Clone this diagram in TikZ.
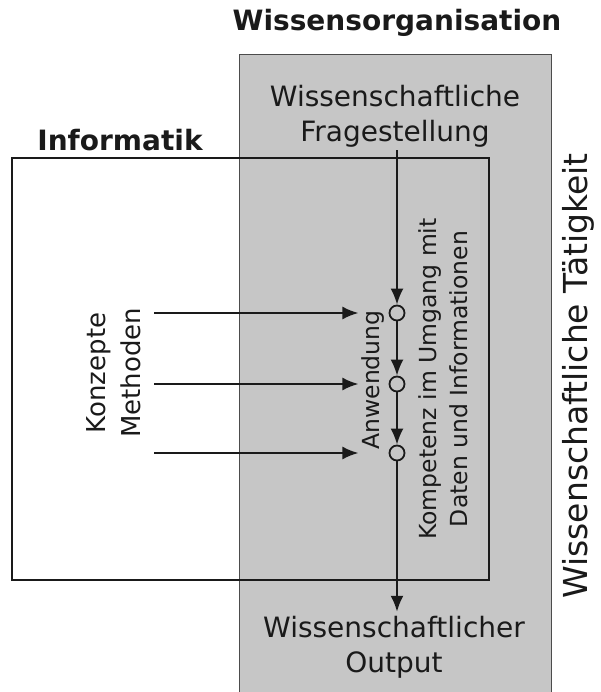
\documentclass[tikz,border=0pt]{standalone}
\usepackage{fontspec}
\setmainfont{DejaVu Sans}
\usetikzlibrary{arrows.meta}
\definecolor{ink}{HTML}{1A1A1A}
\definecolor{field}{HTML}{C6C6C6}
\tikzset{
  lbl/.style={text=ink, font=\fontsize{28}{35}\selectfont, align=center, inner sep=0pt},
  small/.style={text=ink, font=\fontsize{23.5}{31}\selectfont, align=center, inner sep=0pt},
  head/.style={text=ink, font=\fontsize{28}{32}\selectfont\bfseries, inner sep=0pt},
  arr/.style={draw=ink, line width=2pt, -{Latex[length=16pt,width=13pt]}},
  knot/.style={circle, draw=ink, line width=1.8pt, minimum size=15pt, inner sep=0pt},
}
\begin{document}
\begin{tikzpicture}[x=1pt,y=-1pt]
\useasboundingbox (0,0) rectangle (600,692);
% shaded area: Wissensorganisation
\fill[field] (239,54) rectangle (551,700);
\draw[gray!60!black, line width=0.8pt] (551,700) -- (551,54) -- (239,54) -- (239,700);
% frame: Informatik
\draw[ink, line width=1.5pt] (12,158) rectangle (489,580);

% headings
\node[head] (wo) at (397,23) {Wissensorganisation};
\node[head] (inf) at (120,140) {Informatik};

% texts
\node[lbl] (fq) at (395,116) {Wissenschaftliche\\Fragestellung};
\node[lbl] (out) at (394,647) {Wissenschaftlicher\\Output};
\node[lbl, rotate=90, font=\fontsize{26}{35}\selectfont] (km) at (114,373) {Konzepte\\Methoden};
\node[small, rotate=90, inner sep=3pt] (an) at (373,380) {Anwendung};
\node[small, rotate=90] (ko) at (443,379) {Kompetenz im Umgang mit\\Daten und Informationen};
\node[lbl, rotate=90, font=\fontsize{33}{38}\selectfont] (wt) at (578,376) {Wissenschaftliche Tätigkeit};

% chain of steps
\node[knot] (c1) at (397,313) {};
\node[knot] (c2) at (397,384) {};
\node[knot] (c3) at (397,453) {};

\draw[arr, shorten <=3pt] (fq.south -| c1) -- (c1);
\draw[arr] (c1) -- (c2);
\draw[arr] (c2) -- (c3);
\draw[arr, shorten >=4pt] (c3) -- (c3 |- out.north);

\draw[arr, shorten <=13pt] (km.south |- c1) -- (an.north |- c1);
\draw[arr, shorten <=13pt] (km.south |- c2) -- (an.north |- c2);
\draw[arr, shorten <=13pt] (km.south |- c3) -- (an.north |- c3);
\end{tikzpicture}
\end{document}
